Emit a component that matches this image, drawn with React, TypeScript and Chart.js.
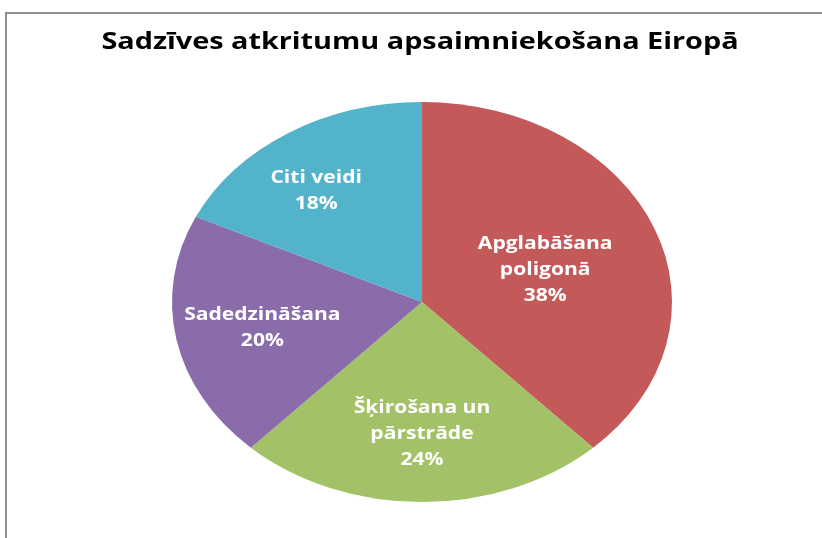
import React, { useEffect, useRef } from "react";
import { Chart, registerables } from "chart.js";

Chart.register(...registerables);

const TITLE = "Sadzīves atkritumu apsaimniekošana Eiropā";
const categories = ["Apglabāšana poligonā", "Šķirošana un pārstrāde", "Sadedzināšana", "Citi veidi"];
const labelLines = [["Apglabāšana", "poligonā"], ["Šķirošana un", "pārstrāde"], ["Sadedzināšana"], ["Citi veidi"]];
const values = [38, 24, 20, 18];
const colors = ["#C4595A", "#A3C166", "#896CA9", "#53B3CB"];

const X_STRETCH = 1.25;
// radial placement of each label as a fraction of the radius (x, y)
const LABEL_FRACTIONS: [number, number][] = [[0.53, 0.44], [0.65, 0.66], [0.65, 0.7], [0.79, 0.66]];

const ellipsePlugin = {
  id: "ellipse",
  beforeDatasetsDraw(chart: any) {
    const arc = chart.getDatasetMeta(0).data[0];
    const ctx = chart.ctx;
    ctx.save();
    ctx.translate(arc.x, arc.y);
    ctx.scale(X_STRETCH, 1);
    ctx.translate(-arc.x, -arc.y);
  },
  afterDatasetsDraw(chart: any) {
    chart.ctx.restore();
  },
};

function stretchedText(ctx: CanvasRenderingContext2D, text: string, x: number, y: number, sx: number) {
  ctx.save();
  ctx.translate(x, y);
  ctx.scale(sx, 1);
  ctx.fillText(text, 0, 0);
  ctx.restore();
}

const textPlugin = {
  id: "texts",
  afterDraw(chart: any) {
    const ctx = chart.ctx;
    ctx.save();
    ctx.textAlign = "center";
    ctx.textBaseline = "middle";
    ctx.fillStyle = "#000000";
    ctx.font = "bold 24px 'Open Sans', sans-serif";
    stretchedText(ctx, TITLE, 420, 42, 1.2);

    const meta = chart.getDatasetMeta(0);
    const total = values.reduce((a, b) => a + b, 0);
    ctx.fillStyle = "#FFFFFF";
    ctx.font = "bold 18px 'Open Sans', sans-serif";
    meta.data.forEach((arc: any, i: number) => {
      const mid = (arc.startAngle + arc.endAngle) / 2;
      const [fx, fy] = LABEL_FRACTIONS[i];
      const cx = arc.x + Math.cos(mid) * arc.outerRadius * fx * X_STRETCH;
      const cy = arc.y + Math.sin(mid) * arc.outerRadius * fy;
      const lines = [...labelLines[i], Math.round((values[i] / total) * 100) + "%"];
      const lh = 26;
      const y0 = cy - ((lines.length - 1) * lh) / 2;
      lines.forEach((t, j) => stretchedText(ctx, t, cx, y0 + j * lh, 1.17));
    });
    ctx.restore();
  },
};

export default function App() {
  const ref = useRef<HTMLCanvasElement | null>(null);
  useEffect(() => {
    if (!ref.current) return;
    const chart = new Chart(ref.current, {
      type: "pie",
      data: {
        labels: categories,
        datasets: [
          {
            data: values,
            backgroundColor: colors,
            borderWidth: 0,
          },
        ],
      },
      options: {
        animation: false,
        responsive: true,
        maintainAspectRatio: false,
        layout: { padding: { left: 222, right: 200, top: 102, bottom: 36 } },
        plugins: {
          legend: { display: false },
          title: { display: false },
          tooltip: { enabled: false },
        },
      },
      plugins: [ellipsePlugin, textPlugin],
    });
    return () => chart.destroy();
  }, []);
  return (
    <div style={{ position: "absolute", left: 0, top: 0, width: 822, height: 538, background: "#fff" }}>
      <div
        style={{
          position: "absolute",
          left: 5,
          top: 12,
          right: 0,
          bottom: 0,
          borderLeft: "2px solid #8f8f8f",
          borderTop: "2px solid #8f8f8f",
        }}
      />
      <canvas ref={ref} style={{ position: "absolute", left: 0, top: 0 }} />
    </div>
  );
}
